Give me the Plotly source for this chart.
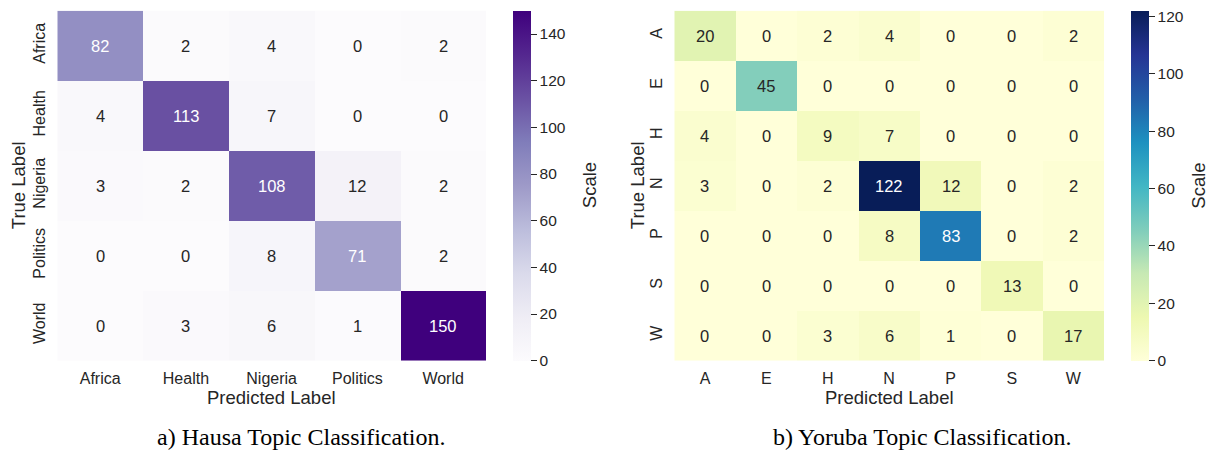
import plotly.graph_objects as go
import plotly.express as px
from plotly.colors import sample_colorscale, unlabel_rgb

# ---------------- data ----------------
hausa_labels = ["Africa", "Health", "Nigeria", "Politics", "World"]
hausa_matrix = [
    [82, 2, 4, 0, 2],
    [4, 113, 7, 0, 0],
    [3, 2, 108, 12, 2],
    [0, 0, 8, 71, 2],
    [0, 3, 6, 1, 150],
]
hausa_ticks = [0, 20, 40, 60, 80, 100, 120, 140]

yoruba_labels = ["A", "E", "H", "N", "P", "S", "W"]
yoruba_matrix = [
    [20, 0, 2, 4, 0, 0, 2],
    [0, 45, 0, 0, 0, 0, 0],
    [4, 0, 9, 7, 0, 0, 0],
    [3, 0, 2, 122, 12, 0, 2],
    [0, 0, 0, 8, 83, 0, 2],
    [0, 0, 0, 0, 0, 13, 0],
    [0, 0, 3, 6, 1, 0, 17],
]
yoruba_ticks = [0, 20, 40, 60, 80, 100, 120]

captions = ["a) Hausa Topic Classification.", "b) Yoruba Topic Classification."]
x_title = "Predicted Label"
y_title = "True Label"
cbar_title = "Scale"

# ---------------- layout helpers ----------------
W, H = 1210, 455
TXT = "#262626"
SANS = "Arial, Liberation Sans, sans-serif"
SERIF = "Times New Roman, Liberation Serif, serif"


def px_x(x):
    return x / W


def px_y(y):
    return 1 - y / H


def luminance(rgb_str):
    r, g, b = unlabel_rgb(rgb_str)
    out = []
    for c in (r, g, b):
        c = c / 255.0
        c = c / 12.92 if c <= 0.03928 else ((c + 0.055) / 1.055) ** 2.4
        out.append(c)
    return 0.2126 * out[0] + 0.7152 * out[1] + 0.0722 * out[2]


fig = go.Figure()

panels = [
    dict(labels=hausa_labels, z=hausa_matrix, ticks=hausa_ticks,
         cs=px.colors.sequential.Purples, xr=(57.3, 486.0), cbx=513.3,
         ylab_x=18.5, cbt_x=589.5, cap_x=301, xa="x", ya="y"),
    dict(labels=yoruba_labels, z=yoruba_matrix, ticks=yoruba_ticks,
         cs=px.colors.sequential.YlGnBu, xr=(674.3, 1104.0), cbx=1130.7,
         ylab_x=637.5, cbt_x=1199, cap_x=922, xa="x2", ya="y2"),
]
top, bottom = 10.7, 360.7
annotations = []

for i, p in enumerate(panels):
    zmax = max(max(r) for r in p["z"])
    zmin = min(min(r) for r in p["z"])
    fig.add_trace(go.Heatmap(
        z=p["z"], x=p["labels"], y=p["labels"],
        colorscale=p["cs"], zmin=zmin, zmax=zmax,
        xaxis=p["xa"], yaxis=p["ya"], hoverinfo="skip",
        colorbar=dict(
            x=px_x(p["cbx"]), xanchor="left", xpad=0, ypad=0,
            y=px_y(top), yanchor="top", len=bottom - top, lenmode="pixels",
            thickness=17.5, outlinewidth=0,
            ticks="outside", ticklen=6, tickwidth=1.2, tickcolor=TXT,
            tickvals=p["ticks"], tickfont=dict(size=15.5, color=TXT, family=SANS),
        ),
    ))
    # cell annotations
    for r, row in enumerate(p["z"]):
        for c, v in enumerate(row):
            col = sample_colorscale(p["cs"], [(v - zmin) / (zmax - zmin)])[0]
            tc = TXT if luminance(col) > 0.408 else "white"
            annotations.append(dict(
                x=p["labels"][c], y=p["labels"][r], xref=p["xa"], yref=p["ya"],
                text=str(v), showarrow=False,
                font=dict(size=16.5, color=tc, family=SANS)))
    xc = (p["xr"][0] + p["xr"][1]) / 2
    yc = (top + bottom) / 2
    annotations.append(dict(x=px_x(xc), y=px_y(397), xref="paper", yref="paper",
                            text=x_title, showarrow=False, xanchor="center", yanchor="middle",
                            font=dict(size=18.5, color=TXT, family=SANS)))
    annotations.append(dict(x=px_x(p["ylab_x"]), y=px_y(yc), xref="paper", yref="paper",
                            text=y_title, showarrow=False, textangle=-90,
                            xanchor="center", yanchor="middle",
                            font=dict(size=18.5, color=TXT, family=SANS)))
    annotations.append(dict(x=px_x(p["cbt_x"]), y=px_y(yc), xref="paper", yref="paper",
                            text=cbar_title, showarrow=False, textangle=-90,
                            xanchor="center", yanchor="middle",
                            font=dict(size=18.5, color=TXT, family=SANS)))
    annotations.append(dict(x=px_x(p["cap_x"]), y=px_y(437), xref="paper", yref="paper",
                            text=captions[i], showarrow=False, xanchor="center", yanchor="middle",
                            font=dict(size=24, color="black", family=SERIF)))

axis_common = dict(showgrid=False, zeroline=False, showline=False, ticks="",
                   tickfont=dict(size=16, color=TXT, family=SANS))

fig.update_layout(
    width=W, height=H,
    margin=dict(l=0, r=0, t=0, b=0),
    paper_bgcolor="white", plot_bgcolor="white",
    xaxis=dict(domain=[px_x(57.3), px_x(486.0)], anchor="y", ticklabelstandoff=6, **axis_common),
    yaxis=dict(domain=[px_y(bottom), px_y(top)], anchor="x", autorange="reversed",
               tickangle=-90, ticklabelstandoff=8, **axis_common),
    xaxis2=dict(domain=[px_x(674.3), px_x(1104.0)], anchor="y2", ticklabelstandoff=6, **axis_common),
    yaxis2=dict(domain=[px_y(bottom), px_y(top)], anchor="x2", autorange="reversed",
                tickangle=-90, ticklabelstandoff=8, **axis_common),
    annotations=annotations,
    showlegend=False,
)

fig.write_html("out.html",
               config={"displayModeBar": False},
               post_script="document.body.style.margin='0';document.body.style.padding='0';")
